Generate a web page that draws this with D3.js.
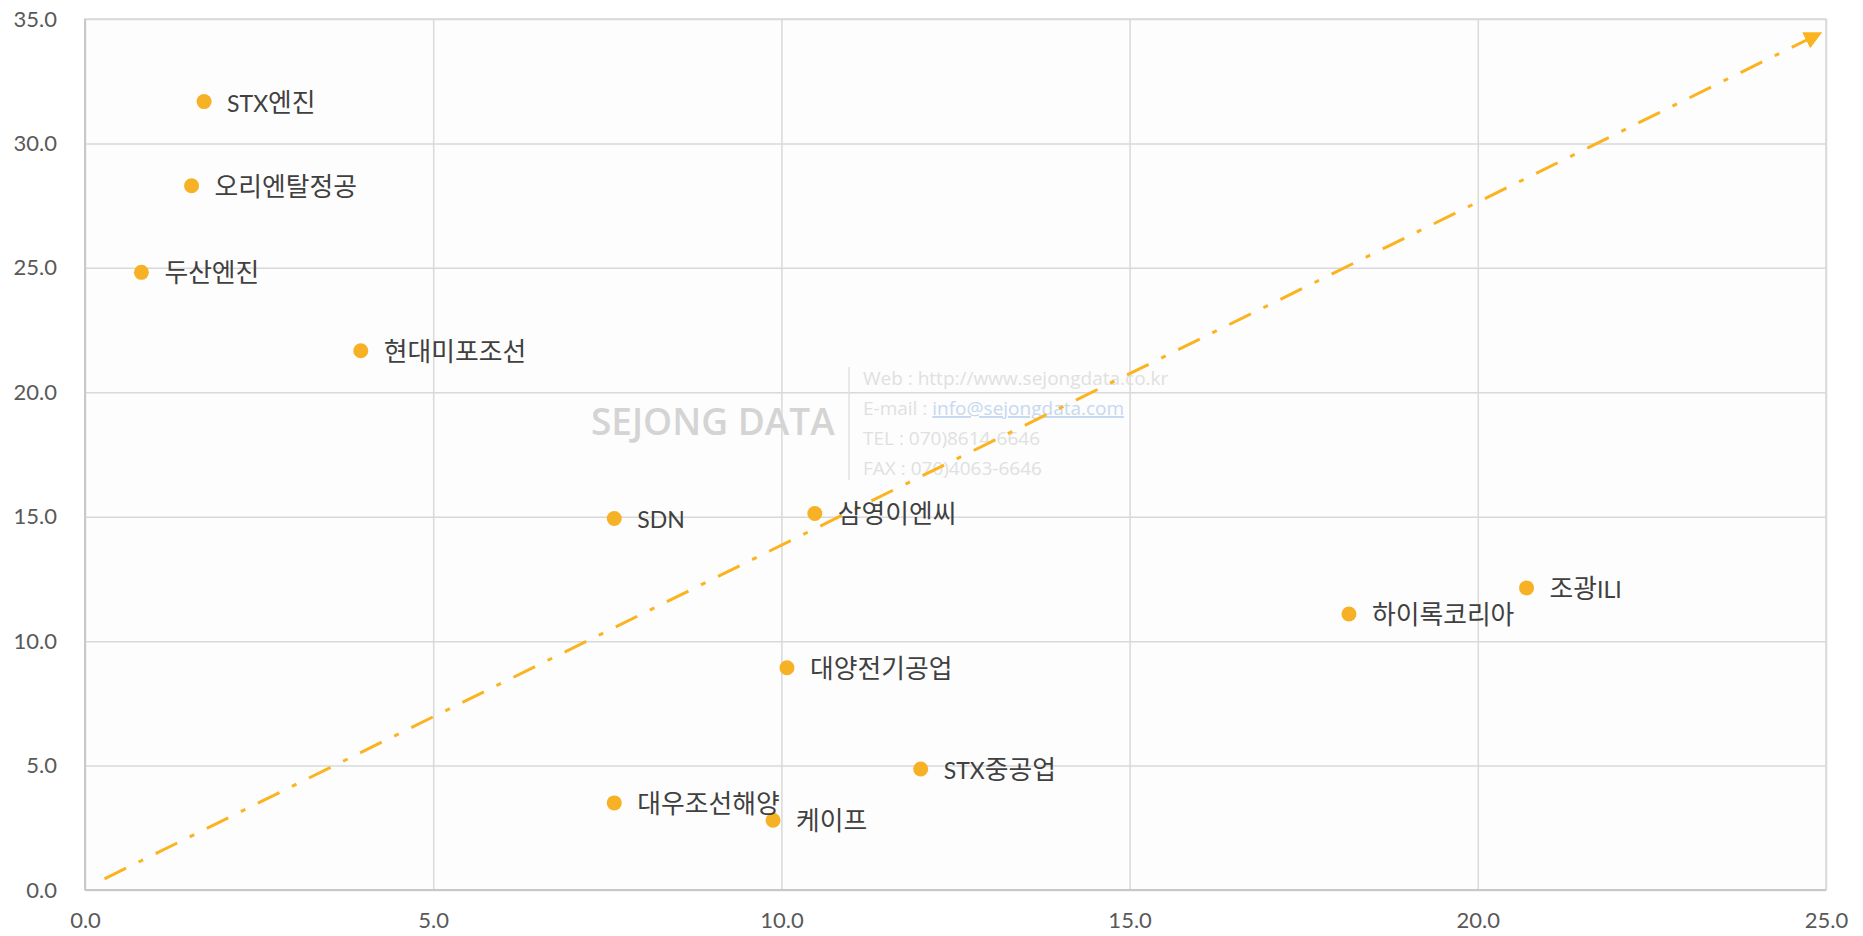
<!DOCTYPE html>
<html>
<head>
<meta charset="utf-8">
<script src="https://cdn.jsdelivr.net/npm/d3@7"></script>
<style>
  html, body { margin: 0; padding: 0; background: #ffffff; }
  svg { display: block; }
</style>
</head>
<body>
<svg id="chart" width="1863" height="936"></svg>
<script>
// ---- data ----
const companies = ["STX엔진", "오리엔탈정공", "두산엔진", "현대미포조선", "SDN", "삼영이엔씨",
  "대양전기공업", "조광ILI", "하이록코리아", "STX중공업", "대우조선해양", "케이프"];
const xValues = [1.71, 1.53, 0.81, 3.96, 7.60, 10.48, 10.08, 20.70, 18.15, 12.00, 7.60, 9.88];
const yValues = [31.68, 28.30, 24.82, 21.67, 14.93, 15.13, 8.93, 12.14, 11.09, 4.86, 3.50, 2.80];
const xTicks = [0, 5, 10, 15, 20, 25];
const yTicks = [0, 5, 10, 15, 20, 25, 30, 35];
const trendX = [0.28, 24.9];
const trendY = [0.45, 34.4];
const watermarkLines = ["Web : http://www.sejongdata.co.kr", "E-mail : ", "TEL : 070)8614-6646", "FAX : 070)4063-6646"];

// ---- layout ----
const W = 1863, H = 936;
const margin = { left: 85, right: 37, top: 19, bottom: 46 };
const svg = d3.select("#chart");
const x = d3.scaleLinear().domain([0, 25]).range([margin.left, W - margin.right]);
const y = d3.scaleLinear().domain([0, 35]).range([H - margin.bottom, margin.top]);
const fmt = d3.format(".1f");
const font = "Lato, 'Noto Sans CJK KR', sans-serif";
const krFont = "'Noto Sans CJK KR', sans-serif";

// plot background
svg.append("rect")
  .attr("x", x(0)).attr("y", y(35))
  .attr("width", x(25) - x(0)).attr("height", y(0) - y(35))
  .attr("fill", "#fdfdfd");

// gridlines
svg.append("g")
  .attr("transform", `translate(0,${y(0)})`)
  .call(d3.axisBottom(x).tickValues(xTicks).tickSize(-(y(0) - y(35))).tickFormat(""))
  .call(g => g.select(".domain").remove())
  .call(g => g.selectAll("line").attr("stroke", "#d9d9d9").attr("stroke-width", 1.5));
svg.append("g")
  .attr("transform", `translate(${x(0)},0)`)
  .call(d3.axisLeft(y).tickValues(yTicks).tickSize(-(x(25) - x(0))).tickFormat(""))
  .call(g => g.select(".domain").remove())
  .call(g => g.selectAll("line").attr("stroke", "#d9d9d9").attr("stroke-width", 1.5));

// plot border
svg.append("rect")
  .attr("x", x(0)).attr("y", y(35))
  .attr("width", x(25) - x(0)).attr("height", y(0) - y(35))
  .attr("fill", "none").attr("stroke", "#d9d9d9").attr("stroke-width", 1.5);
svg.append("line")
  .attr("x1", x(0)).attr("x2", x(25)).attr("y1", y(0)).attr("y2", y(0))
  .attr("stroke", "#c8c8c8").attr("stroke-width", 2);
svg.append("line")
  .attr("x1", x(0)).attr("x2", x(0)).attr("y1", y(0)).attr("y2", y(35))
  .attr("stroke", "#c8c8c8").attr("stroke-width", 2);

// tick labels
const xAxis = svg.append("g")
  .attr("transform", `translate(0,${y(0)})`)
  .call(d3.axisBottom(x).tickValues(xTicks).tickSize(0).tickPadding(22).tickFormat(fmt));
xAxis.select(".domain").remove();
xAxis.selectAll("text").attr("font-family", font).attr("font-size", 22).attr("fill", "#595959");

const yAxis = svg.append("g")
  .attr("transform", `translate(${x(0)},0)`)
  .call(d3.axisLeft(y).tickValues(yTicks).tickSize(0).tickPadding(28).tickFormat(fmt));
yAxis.select(".domain").remove();
yAxis.selectAll("text").attr("font-family", font).attr("font-size", 22).attr("fill", "#595959");

// watermark
const wm = svg.append("g");
wm.append("text")
  .attr("x", 591).attr("y", 435)
  .attr("font-family", "'Open Sans', Lato, sans-serif").attr("font-size", 37)
  .attr("font-weight", 600)
  .attr("fill", "#d4d4d4").text("SEJONG DATA");
wm.append("line")
  .attr("x1", 849).attr("x2", 849).attr("y1", 367).attr("y2", 480)
  .attr("stroke", "#e0e0e0").attr("stroke-width", 1.5);
watermarkLines.forEach((t, i) => {
  const tx = wm.append("text")
    .attr("x", 863).attr("y", 385 + i * 30)
    .attr("font-family", "'Open Sans', Lato, sans-serif").attr("font-size", 19)
    .attr("fill", "#e0e0e0").text(t);
  if (i === 1) {
    tx.append("tspan").attr("fill", "#c6d8f0").attr("text-decoration", "underline")
      .text("info@sejongdata.com");
  }
});

// trend arrow
const trendPts = trendX.map((v, i) => [x(v), y(trendY[i])]);
svg.append("defs").append("marker")
  .attr("id", "arrow").attr("viewBox", "0 0 10 10")
  .attr("refX", 8).attr("refY", 5)
  .attr("markerWidth", 6).attr("markerHeight", 6)
  .attr("markerUnits", "strokeWidth")
  .attr("orient", "auto")
  .append("path").attr("d", "M0,0 L10,5 L0,10 z").attr("fill", "#fbb320");
svg.append("path")
  .attr("d", d3.line()(trendPts))
  .attr("fill", "none").attr("stroke", "#fbb320").attr("stroke-width", 3)
  .attr("stroke-dasharray", "24,14,5,14")
  .attr("marker-end", "url(#arrow)");

// points
const data = companies.map((c, i) => ({ name: c, x: xValues[i], y: yValues[i] }));
svg.append("g").selectAll("circle").data(data).join("circle")
  .attr("cx", d => x(d.x)).attr("cy", d => y(d.y)).attr("r", 7.5)
  .attr("fill", "#f7b125");

// labels: split Hangul / Latin runs so Hangul can use a wider CJK face
function runs(s) {
  const out = [];
  for (const ch of s) {
    const kr = /[\uac00-\ud7a3]/.test(ch);
    if (out.length && out[out.length - 1].kr === kr) out[out.length - 1].t += ch;
    else out.push({ kr, t: ch });
  }
  return out;
}
const labels = svg.append("g").selectAll("text").data(data).join("text")
  .attr("x", d => x(d.x) + 23).attr("y", d => y(d.y) + 10)
  .attr("font-family", font).attr("font-size", 23)
  .attr("fill", "#404040");
labels.each(function(d) {
  const t = d3.select(this);
  runs(d.name).forEach(r => {
    const sp = t.append("tspan").text(r.t);
    if (r.kr) sp.attr("font-family", krFont).attr("font-size", 25.8);
  });
});
</script>
</body>
</html>
